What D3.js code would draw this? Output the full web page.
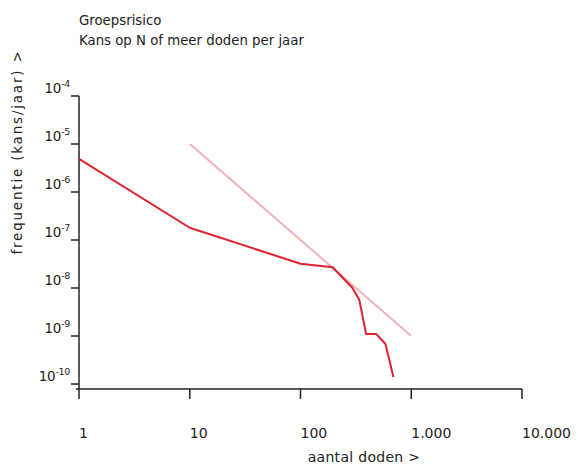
<!DOCTYPE html>
<html>
<head>
<meta charset="utf-8">
<script src="https://cdn.jsdelivr.net/npm/d3@7"></script>
<style>
  html, body { margin: 0; padding: 0; background: #fff; }
  svg { display: block; }
  text { font-family: "DejaVu Sans", Verdana, sans-serif; fill: #222; }
</style>
</head>
<body>
<svg id="chart" width="578" height="466"></svg>
<script>
// ---- data ----
const titleLines = ["Groepsrisico", "Kans op N of meer doden per jaar"];
const xLabel = "aantal doden >";
const yLabel = "frequentie (kans/jaar) >";

const xTicks = [1, 10, 100, 1000, 10000];
const xTickLabels = ["1", "10", "100", "1.000", "10.000"];
const yTicks = [1e-4, 1e-5, 1e-6, 1e-7, 1e-8, 1e-9, 1e-10];
const yTickExps = ["-4", "-5", "-6", "-7", "-8", "-9", "-10"];

// groepsrisico curve (N, frequency)
const deaths = [1, 10, 100, 195, 295, 340, 391, 482, 585, 690];
const freq   = [4.9e-6, 1.8e-7, 3.2e-8, 2.7e-8, 1.0e-8, 5.6e-9, 1.1e-9, 1.1e-9, 6.8e-10, 1.4e-10];

// orientatiewaarde (norm line)
const normN = [10, 1000];
const normF = [1e-5, 1e-9];

// ---- drawing ----
const svg = d3.select("#chart");
svg.append("rect").attr("width", 578).attr("height", 466).attr("fill", "#fff");

const x = d3.scaleLog().domain([1, 10000]).range([79, 522]);
const y = d3.scaleLog().domain([1e-4, 1e-10]).range([96, 384]);
const yBottom = 389;

// title
svg.append("text").attr("x", 79).attr("y", 25).attr("font-size", 13.3).text(titleLines[0]);
svg.append("text").attr("x", 79).attr("y", 45).attr("font-size", 13.3).text(titleLines[1]);

// axes
const ax = svg.append("g").attr("stroke", "#222").attr("stroke-width", 1.5);
ax.append("line").attr("x1", x(1)).attr("x2", x(1)).attr("y1", y(1e-4)).attr("y2", yBottom);
ax.append("line").attr("x1", x(1) - 3).attr("x2", x(10000)).attr("y1", yBottom).attr("y2", yBottom);
yTicks.forEach(v => {
  ax.append("line").attr("x1", x(1) - 8).attr("x2", x(1)).attr("y1", y(v)).attr("y2", y(v));
});
xTicks.forEach(v => {
  ax.append("line").attr("x1", x(v)).attr("x2", x(v)).attr("y1", yBottom).attr("y2", yBottom + 10);
});

// y tick labels
yTicks.forEach((v, i) => {
  const t = svg.append("text")
    .attr("x", 70).attr("y", y(v) - 3)
    .attr("text-anchor", "end").attr("font-size", 13.5).attr("letter-spacing", -0.3);
  t.append("tspan").text("10");
  t.append("tspan").attr("font-size", 9.5).attr("dy", -6).text(yTickExps[i]);
});

// x tick labels
xTicks.forEach((v, i) => {
  svg.append("text").attr("x", x(v)).attr("y", 438)
    .attr("font-size", 14).attr("fill", "#333").text(xTickLabels[i]);
});

// axis titles
svg.append("text").attr("x", 364).attr("y", 462).attr("text-anchor", "middle")
  .attr("font-size", 14).attr("letter-spacing", 0.3).text(xLabel);
svg.append("text").attr("transform", "translate(22,152) rotate(-90)")
  .attr("text-anchor", "middle").attr("font-size", 13.5).attr("letter-spacing", 1.8).text(yLabel);

// norm line
const line = d3.line().x(d => x(d[0])).y(d => y(d[1]));
svg.append("path").datum(d3.zip(normN, normF)).attr("d", line)
  .attr("fill", "none").attr("stroke", "#efb2b8").attr("stroke-width", 2);

// risk curve
svg.append("path").datum(d3.zip(deaths, freq)).attr("d", line)
  .attr("fill", "none").attr("stroke", "#e0222d").attr("stroke-width", 2)
  .attr("stroke-linejoin", "round");
</script>
</body>
</html>
